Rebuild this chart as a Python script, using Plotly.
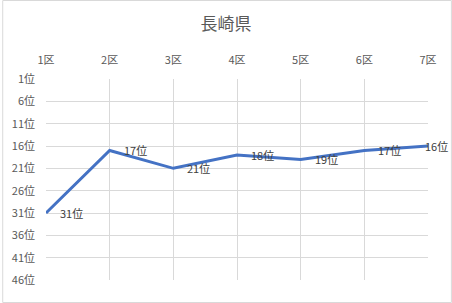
import plotly.graph_objects as go

categories = ["1区", "2区", "3区", "4区", "5区", "6区", "7区"]
ranks = [31, 17, 21, 18, 19, 17, 16]
ytick_vals = [1, 6, 11, 16, 21, 26, 31, 36, 41, 46]
ytick_text = [f"{v}位" for v in ytick_vals]
title = "長崎県"

W, H = 452, 303
ml, mr, mt, mb = 44, 24, 79, 23
pw, ph = W - ml - mr, H - mt - mb

font = "Noto Sans CJK JP, Noto Sans, sans-serif"
xs = list(range(len(categories)))

fig = go.Figure()
fig.add_trace(go.Scatter(
    x=xs, y=ranks, mode="lines",
    line=dict(color="#4472C4", width=3),
    cliponaxis=False, hoverinfo="skip", showlegend=False,
))

annotations = []
for i, r in enumerate(ranks):
    last = i == len(ranks) - 1
    annotations.append(dict(
        x=xs[i], y=r, xref="x", yref="y", text=f"{r}位", showarrow=False,
        xanchor="center" if last else "left", yanchor="middle",
        xshift=8 if last else 12,
        font=dict(family=font, size=11, color="#404040"),
    ))

fig.update_layout(
    width=W, height=H,
    margin=dict(l=ml, r=mr, t=mt, b=mb),
    paper_bgcolor="white", plot_bgcolor="white",
    title=dict(text=title, x=0.5, xanchor="center", y=1 - 24 / H, yanchor="middle",
               font=dict(family=font, size=17, color="#595959")),
    xaxis=dict(side="top", tickvals=xs, ticktext=categories, range=[0, 6],
               showgrid=True, gridcolor="#D9D9D9", gridwidth=1, zeroline=False,
               showline=False, ticks="", ticklabelstandoff=12,
               tickfont=dict(family=font, size=11, color="#595959")),
    xaxis2=dict(overlaying="x", side="bottom", anchor="y", tickvals=xs, range=[0, 6],
                showgrid=False, zeroline=False, showline=False, ticks="outside",
                ticklen=5, tickcolor="#D9D9D9", tickwidth=1, showticklabels=False),
    yaxis=dict(autorange=False, range=[46, 1], tickvals=ytick_vals, ticktext=ytick_text,
               showgrid=True, gridcolor="#D9D9D9", gridwidth=1, zeroline=False,
               showline=False, ticks="", ticklabelstandoff=10,
               tickfont=dict(family=font, size=11, color="#595959")),
    annotations=annotations,
    shapes=[dict(type="rect", xref="paper", yref="paper",
                 x0=-(ml - 0.5) / pw, x1=1 + (mr - 0.5) / pw,
                 y0=-(mb - 0.5) / ph, y1=1 + (mt - 0.5) / ph,
                 line=dict(color="#D9D9D9", width=1))],
)

fig.write_html("out.html")
